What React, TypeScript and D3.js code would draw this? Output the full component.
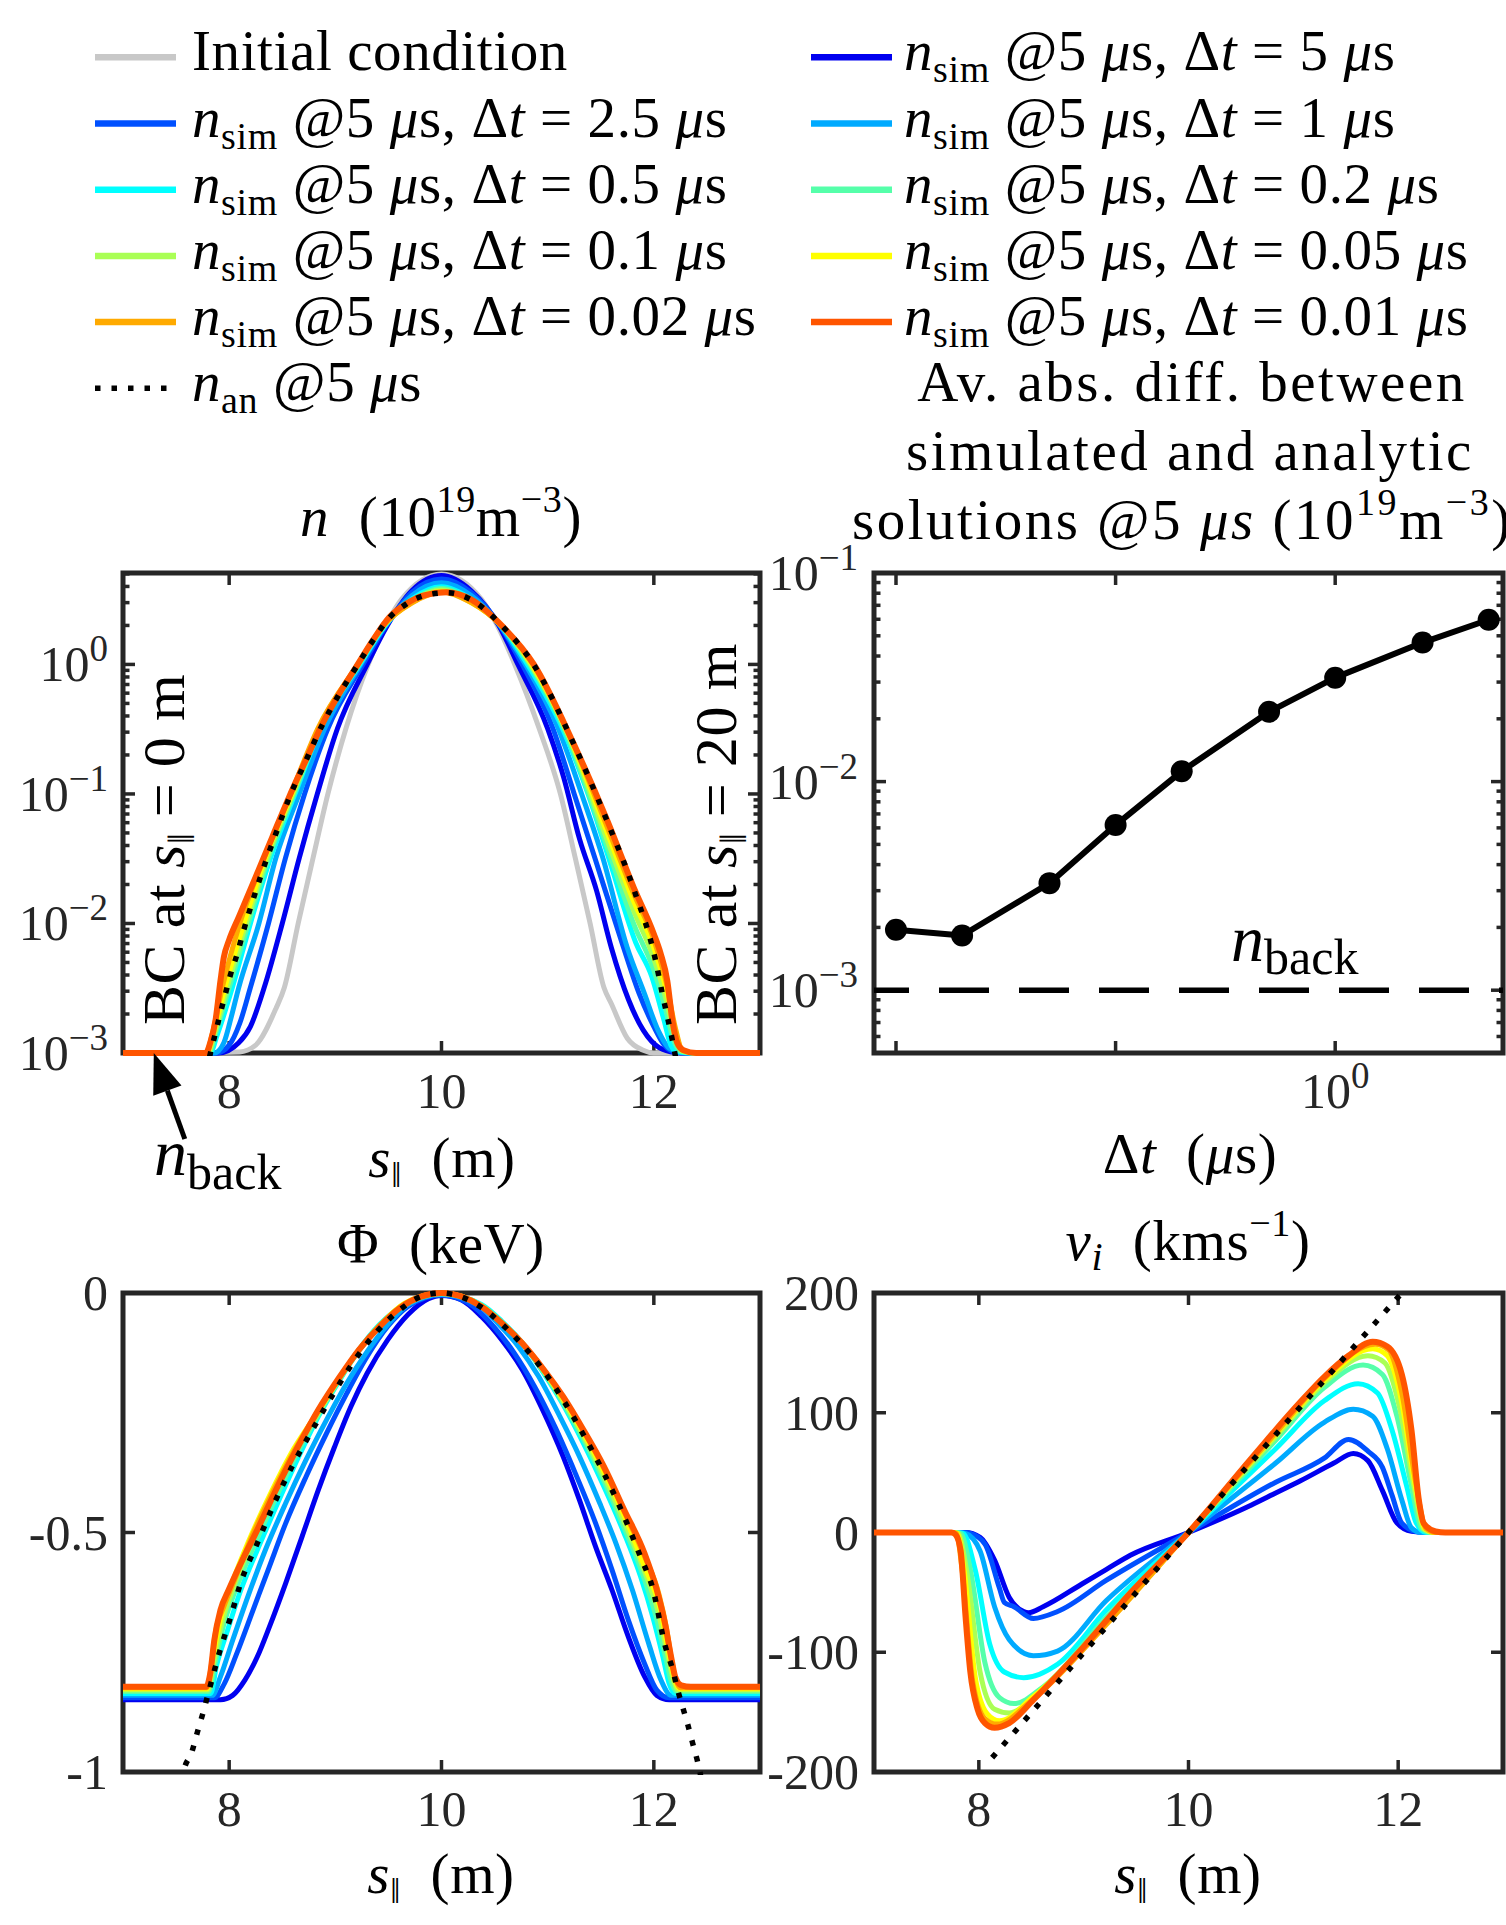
import React, { useEffect } from 'react';
import * as d3 from 'd3';

type Pt = [number, number];

// ---------------- series metadata ----------------
const dtLabels = ['5', '2.5', '1', '0.5', '0.2', '0.1', '0.05', '0.02', '0.01'];
const simColors = ['#0000f0', '#0050ff', '#00aaff', '#00ffff', '#55ffaa', '#aaff55', '#ffff00', '#ffaa00', '#ff5500'];
const initColor = '#c8c8c8';

// ---------------- top-right: average absolute difference ----------------
const errDt = [0.01, 0.02, 0.05, 0.1, 0.2, 0.5, 1, 2.5, 5];
const errVal = [1.95e-3, 1.83e-3, 3.26e-3, 6.19e-3, 1.12e-2, 2.16e-2, 3.15e-2, 4.64e-2, 5.97e-2];
const nBack = 1e-3;

// ---------------- top-left: density n (1e19 m^-3) vs s ----------------
const nInit: Pt[] = [[7, 1e-3], [8.1, 1.02e-3], [8.25, 1.15e-3], [8.44, 2.2e-3], [8.52, 3.2e-3], [8.65, 1e-2], [8.79, 3.2e-2], [8.93, 0.1], [9.1, 0.32], [9.31, 1.0], [9.475, 2.0], [9.625, 3.2], [10, 5.0], [10.375, 3.2], [10.525, 2.0], [10.69, 1.0], [10.92, 0.32], [11.12, 0.1], [11.26, 3.2e-2], [11.4, 1e-2], [11.53, 3.2e-3], [11.6, 2.4e-3], [11.75, 1.3e-3], [11.9, 1.05e-3], [12.0, 1e-3], [13, 1e-3]];
const nDt5: Pt[] = [[7, 1e-3], [7.9, 1e-3], [8.09, 1.2e-3], [8.2, 1.6e-3], [8.33, 3.2e-3], [8.5, 1e-2], [8.66, 3.2e-2], [8.83, 0.1], [9.02, 0.32], [9.3, 1.0], [9.49, 2.0], [9.72, 3.7], [10, 4.85], [10.28, 3.7], [10.54, 2.0], [10.72, 1.0], [11.0, 0.32], [11.15, 0.135], [11.3, 4.5e-2], [11.46, 1.8e-2], [11.6, 6.5e-3], [11.76, 2.6e-3], [11.9, 1.5e-3], [12.05, 1.1e-3], [12.2, 1.01e-3], [12.3, 1e-3], [13, 1e-3]];
const nDt2p5: Pt[] = [[7, 1e-3], [7.88, 1e-3], [8.0, 1.15e-3], [8.1, 1.7e-3], [8.2, 3.2e-3], [8.37, 1e-2], [8.53, 3.2e-2], [8.71, 0.1], [8.93, 0.32], [9.26, 1.0], [9.48, 2.0], [9.72, 3.6], [10, 4.57], [10.28, 3.6], [10.55, 2.0], [10.76, 1.0], [11.05, 0.32], [11.25, 0.1], [11.45, 3.1e-2], [11.7, 7.1e-3], [11.86, 2.9e-3], [12.0, 1.6e-3], [12.1, 1.15e-3], [12.19, 1.02e-3], [12.3, 1e-3], [13, 1e-3]];
const nDt1: Pt[] = [[7, 1e-3], [7.86, 1e-3], [7.95, 1.2e-3], [8.02, 1.9e-3], [8.09, 3.2e-3], [8.28, 1e-2], [8.44, 3.2e-2], [8.66, 0.1], [8.9, 0.32], [9.24, 1.0], [9.47, 2.0], [9.72, 3.4], [10, 4.27], [10.28, 3.4], [10.55, 2.0], [10.79, 1.0], [11.1, 0.32], [11.32, 0.1], [11.52, 3.2e-2], [11.75, 6.5e-3], [11.91, 2.9e-3], [12.04, 1.5e-3], [12.15, 1.08e-3], [12.3, 1e-3], [13, 1e-3]];
const nDt0p5: Pt[] = [[7, 1e-3], [7.82, 1e-3], [7.89, 1.4e-3], [8.03, 3.2e-3], [8.2, 1e-2], [8.39, 3.2e-2], [8.62, 0.1], [8.86, 0.32], [9.23, 1.0], [9.47, 2.0], [9.72, 3.2], [10, 3.98], [10.28, 3.2], [10.56, 2.0], [10.81, 1.0], [11.14, 0.32], [11.38, 0.1], [11.6, 2.75e-2], [11.83, 7.1e-3], [11.98, 3.9e-3], [12.095, 1.8e-3], [12.16, 1.15e-3], [12.22, 1.02e-3], [12.35, 1e-3], [13, 1e-3]];
const nDt0p2: Pt[] = [[7, 1e-3], [7.81, 1e-3], [7.87, 1.4e-3], [8.0, 3.2e-3], [8.18, 1e-2], [8.37, 3.2e-2], [8.61, 0.1], [8.855, 0.32], [9.22, 1.0], [9.46, 2.0], [9.72, 3.1], [10, 3.85], [10.28, 3.1], [10.56, 2.0], [10.83, 1.0], [11.17, 0.3], [11.58, 3.5e-2], [11.82, 9.5e-3], [11.99, 4.6e-3], [12.11, 2.2e-3], [12.18, 1.3e-3], [12.25, 1.03e-3], [12.38, 1e-3], [13, 1e-3]];
const nDt0p1: Pt[] = [[7, 1e-3], [7.8, 1e-3], [7.86, 1.4e-3], [7.98, 3.2e-3], [8.16, 1e-2], [8.355, 3.2e-2], [8.6, 0.1], [8.85, 0.32], [9.215, 1.0], [9.46, 2.0], [9.72, 3.05], [10, 3.76], [10.28, 3.05], [10.56, 2.0], [10.84, 1.0], [11.19, 0.29], [11.57, 4.2e-2], [11.82, 1.2e-2], [11.995, 5.5e-3], [12.12, 2.5e-3], [12.19, 1.4e-3], [12.26, 1.04e-3], [12.38, 1e-3], [13, 1e-3]];
const nDt0p05: Pt[] = [[7, 1e-3], [7.79, 1e-3], [7.85, 1.4e-3], [7.96, 3.2e-3], [8.14, 1e-2], [8.34, 3.2e-2], [8.59, 0.1], [8.84, 0.32], [9.213, 1.0], [9.455, 2.0], [9.72, 3.0], [10, 3.67], [10.28, 3.0], [10.564, 2.0], [10.85, 1.0], [11.21, 0.27], [11.565, 4.9e-2], [11.815, 1.45e-2], [12.0, 6.5e-3], [12.12, 3.0e-3], [12.2, 1.5e-3], [12.27, 1.05e-3], [12.4, 1e-3], [13, 1e-3]];
const nDt0p02: Pt[] = [[7, 1e-3], [7.785, 1e-3], [7.84, 1.4e-3], [7.935, 3.2e-3], [8.1, 1e-2], [8.33, 3.2e-2], [8.58, 0.1], [8.835, 0.32], [9.211, 1.0], [9.454, 2.0], [9.72, 2.98], [10, 3.63], [10.28, 3.0], [10.565, 2.0], [10.86, 1.0], [11.23, 0.255], [11.559, 5.6e-2], [11.81, 1.7e-2], [12.0, 7.5e-3], [12.12, 3.4e-3], [12.2, 1.6e-3], [12.27, 1.05e-3], [12.4, 1e-3], [13, 1e-3]];
const nDt0p01: Pt[] = [[7, 1e-3], [7.78, 1e-3], [7.824, 1.22e-3], [7.872, 1.8e-3], [7.919, 3.66e-3], [7.95, 5.5e-3], [7.998, 7.4e-3], [8.092, 1.13e-2], [8.25, 2.29e-2], [8.407, 4.67e-2], [8.565, 9.5e-2], [8.722, 0.182], [8.88, 0.349], [9.037, 0.594], [9.195, 0.953], [9.352, 1.53], [9.51, 2.32], [9.667, 2.94], [9.825, 3.4], [10.05, 3.6], [10.282, 3.16], [10.566, 2.0], [10.87, 1.0], [11.244, 0.245], [11.559, 6.3e-2], [11.81, 1.9e-2], [12.0, 8.3e-3], [12.063, 5.9e-3], [12.127, 3.6e-3], [12.174, 1.8e-3], [12.22, 1.2e-3], [12.28, 1.05e-3], [12.4, 1e-3], [13, 1e-3]];
const nAn: Pt[] = [[7.78, 7e-4], [7.824, 1e-3], [7.872, 1.44e-3], [7.919, 2.06e-3], [7.966, 2.89e-3], [8.014, 4.07e-3], [8.077, 5.87e-3], [8.124, 8.15e-3], [8.234, 1.61e-2], [8.351, 3.12e-2], [8.45, 5.2e-2], [8.565, 9.3e-2], [8.722, 0.18], [8.88, 0.345], [9.037, 0.59], [9.195, 0.95], [9.352, 1.52], [9.51, 2.3], [9.667, 2.92], [9.825, 3.38], [10.05, 3.58], [10.282, 3.15], [10.566, 2.0], [10.87, 0.99], [11.244, 0.245], [11.559, 6.2e-2], [11.81, 1.85e-2], [12.016, 5.2e-3], [12.079, 2.9e-3], [12.174, 1.26e-3], [12.22, 8e-4]];

// ---------------- bottom-left: potential Phi (keV) vs s ----------------
const phiDt5: Pt[] = [[7, -0.849], [7.918, -0.849], [8.033, -0.84], [8.148, -0.808], [8.264, -0.76], [8.379, -0.697], [8.532, -0.606], [8.686, -0.509], [8.84, -0.411], [8.993, -0.321], [9.147, -0.237], [9.301, -0.167], [9.493, -0.098], [9.685, -0.045], [9.877, -0.012], [10, -0.005], [10.184, -0.014], [10.376, -0.049], [10.568, -0.098], [10.761, -0.16], [10.953, -0.244], [11.145, -0.341], [11.299, -0.432], [11.452, -0.53], [11.606, -0.62], [11.76, -0.718], [11.913, -0.801], [12.028, -0.84], [12.144, -0.849], [13, -0.849]];
const phiDt2p5: Pt[] = [[7, -0.845], [7.86, -0.845], [7.956, -0.815], [8.071, -0.753], [8.225, -0.662], [8.379, -0.571], [8.532, -0.481], [8.725, -0.383], [8.917, -0.293], [9.109, -0.209], [9.301, -0.132], [9.493, -0.07], [9.685, -0.028], [10, -0.004], [10.3, -0.028], [10.492, -0.07], [10.684, -0.125], [10.876, -0.195], [11.068, -0.279], [11.26, -0.376], [11.452, -0.481], [11.606, -0.578], [11.76, -0.683], [11.913, -0.774], [12.028, -0.829], [12.144, -0.845], [13, -0.845]];
const phiDt1: Pt[] = [[7, -0.84], [7.841, -0.84], [7.918, -0.801], [8.033, -0.725], [8.187, -0.627], [8.34, -0.537], [8.532, -0.439], [8.725, -0.348], [8.917, -0.265], [9.109, -0.188], [9.301, -0.122], [9.493, -0.066], [9.685, -0.024], [10, -0.003], [10.338, -0.024], [10.53, -0.063], [10.722, -0.111], [10.914, -0.174], [11.106, -0.254], [11.299, -0.341], [11.491, -0.439], [11.644, -0.523], [11.798, -0.62], [11.952, -0.732], [12.067, -0.808], [12.163, -0.84], [13, -0.84]];
const phiDt0p5: Pt[] = [[7, -0.836], [7.826, -0.836], [7.879, -0.78], [7.975, -0.711], [8.11, -0.62], [8.264, -0.537], [8.456, -0.439], [8.648, -0.345], [8.84, -0.258], [9.032, -0.185], [9.224, -0.118], [9.416, -0.066], [9.685, -0.021], [10, -0.002], [10.376, -0.024], [10.568, -0.059], [10.761, -0.104], [10.953, -0.164], [11.145, -0.233], [11.337, -0.314], [11.529, -0.404], [11.721, -0.502], [11.875, -0.592], [11.99, -0.676], [12.086, -0.76], [12.144, -0.815], [12.201, -0.836], [13, -0.836]];
const phiDt0p2: Pt[] = [[7, -0.832], [7.81, -0.832], [7.86, -0.78], [7.94, -0.7], [8.06, -0.62], [8.22, -0.535], [8.42, -0.437], [8.62, -0.343], [8.84, -0.254], [9.032, -0.183], [9.224, -0.12], [9.416, -0.068], [9.65, -0.024], [10, -0.001], [10.37, -0.025], [10.568, -0.061], [10.761, -0.105], [10.953, -0.162], [11.145, -0.229], [11.337, -0.305], [11.529, -0.392], [11.721, -0.49], [11.9, -0.59], [12.02, -0.675], [12.11, -0.76], [12.17, -0.815], [12.22, -0.832], [13, -0.832]];
const phiDt0p1: Pt[] = [[7, -0.829], [7.8, -0.829], [7.85, -0.775], [7.93, -0.69], [8.04, -0.615], [8.2, -0.528], [8.4, -0.43], [8.6, -0.34], [8.84, -0.25], [9.032, -0.181], [9.224, -0.119], [9.416, -0.068], [9.65, -0.023], [10, 0], [10.37, -0.026], [10.568, -0.062], [10.761, -0.105], [10.953, -0.16], [11.145, -0.225], [11.337, -0.298], [11.529, -0.382], [11.721, -0.478], [11.91, -0.58], [12.04, -0.665], [12.13, -0.755], [12.19, -0.812], [12.23, -0.829], [13, -0.829]];
const phiDt0p05: Pt[] = [[7, -0.826], [7.795, -0.826], [7.84, -0.77], [7.92, -0.68], [8.02, -0.61], [8.18, -0.52], [8.38, -0.423], [8.58, -0.336], [8.84, -0.247], [9.032, -0.18], [9.224, -0.118], [9.416, -0.069], [9.65, -0.022], [10, 0], [10.376, -0.027], [10.568, -0.063], [10.761, -0.105], [10.953, -0.158], [11.145, -0.221], [11.337, -0.293], [11.529, -0.373], [11.721, -0.465], [11.91, -0.57], [12.06, -0.66], [12.14, -0.75], [12.2, -0.81], [12.24, -0.826], [13, -0.826]];
const phiDt0p02: Pt[] = [[7, -0.824], [7.79, -0.824], [7.83, -0.78], [7.87, -0.71], [7.95, -0.655], [8.05, -0.6], [8.2, -0.515], [8.4, -0.42], [8.6, -0.334], [8.84, -0.245], [9.032, -0.179], [9.224, -0.118], [9.416, -0.07], [9.608, -0.031], [10, 0], [10.376, -0.028], [10.568, -0.063], [10.761, -0.105], [10.953, -0.157], [11.145, -0.218], [11.337, -0.288], [11.529, -0.366], [11.721, -0.457], [11.913, -0.55], [12.05, -0.63], [12.12, -0.7], [12.17, -0.77], [12.21, -0.81], [12.25, -0.824], [13, -0.824]];
const phiDt0p01: Pt[] = [[7, -0.822], [7.783, -0.822], [7.822, -0.794], [7.86, -0.725], [7.918, -0.662], [7.995, -0.62], [8.11, -0.564], [8.264, -0.495], [8.456, -0.404], [8.648, -0.321], [8.84, -0.244], [9.032, -0.178], [9.224, -0.118], [9.416, -0.07], [9.608, -0.031], [9.8, -0.008], [10, 0], [10.184, -0.007], [10.376, -0.028], [10.568, -0.063], [10.761, -0.105], [10.953, -0.157], [11.145, -0.216], [11.337, -0.286], [11.529, -0.362], [11.721, -0.453], [11.913, -0.544], [12.028, -0.62], [12.105, -0.69], [12.163, -0.76], [12.201, -0.801], [12.259, -0.819], [12.35, -0.822], [13, -0.822]];
const phiAn: Pt[] = [[7.55, -1.02], [7.572, -0.997], [7.649, -0.958], [7.699, -0.918], [7.753, -0.877], [7.803, -0.836], [7.91, -0.749], [8.01, -0.679], [8.118, -0.599], [8.264, -0.523], [8.417, -0.443], [8.609, -0.355], [8.801, -0.279], [8.993, -0.206], [9.186, -0.139], [9.378, -0.084], [9.608, -0.035], [9.8, -0.008], [10, 0], [10.184, -0.008], [10.376, -0.03], [10.568, -0.065], [10.761, -0.108], [10.953, -0.16], [11.145, -0.223], [11.337, -0.296], [11.529, -0.376], [11.721, -0.467], [11.875, -0.551], [11.99, -0.617], [12.105, -0.735], [12.182, -0.79], [12.221, -0.826], [12.267, -0.861], [12.317, -0.899], [12.367, -0.941], [12.413, -0.979], [12.432, -0.997], [12.45, -1.02]];

// ---------------- bottom-right: ion velocity v_i (km/s) vs s ----------------
const vDt5: Pt[] = [[7, 0], [7.873, 0], [8.012, -4], [8.15, -23], [8.289, -54], [8.428, -66], [8.474, -67], [8.613, -62], [8.983, -43], [9.214, -31], [9.445, -19], [10, 0], [10.601, 23], [10.832, 33], [11.064, 43], [11.387, 58], [11.572, 66], [11.711, 60], [11.85, 35], [11.988, 8], [12.127, 1], [12.3, 0], [13, 0]];
const vDt2p5: Pt[] = [[7, 0], [7.85, 0], [7.919, -0.8], [8.058, -9.7], [8.197, -46.6], [8.243, -58.3], [8.335, -62], [8.52, -71.8], [8.751, -66], [9.214, -40], [10, 0], [10.832, 42], [11.295, 62.1], [11.526, 77.7], [11.711, 68], [11.85, 54.4], [11.942, 31], [12.035, 7.8], [12.173, 0.8], [12.3, 0], [13, 0]];
const vDt1: Pt[] = [[7, 0], [7.8, 0], [7.873, -0.8], [8.012, -15.5], [8.15, -62], [8.289, -89.3], [8.52, -102.9], [8.751, -99], [9.214, -57], [10, 0], [10.832, 58], [11.295, 92], [11.572, 102.9], [11.757, 97.1], [11.896, 69.9], [12.035, 27.2], [12.127, 3.9], [12.22, 0], [13, 0]];
const vDt0p5: Pt[] = [[7, 0], [7.78, 0], [7.85, -0.8], [7.965, -31], [8.104, -93.2], [8.243, -116.5], [8.428, -121.2], [8.751, -110], [9.214, -65], [10, 0], [10.832, 70], [11.295, 110], [11.618, 124.3], [11.803, 116.5], [11.942, 85.4], [12.081, 38.8], [12.173, 7.8], [12.266, 0], [13, 0]];
const vDt0p2: Pt[] = [[7, 0], [7.76, 0], [7.827, -0.8], [7.919, -31], [8.058, -108.7], [8.197, -137.9], [8.335, -142.9], [8.613, -129], [9.214, -71], [10, 0], [10.832, 77], [11.295, 121], [11.665, 139.8], [11.85, 132], [11.988, 97.1], [12.127, 38.8], [12.22, 3.9], [12.312, 0], [13, 0]];
const vDt0p1: Pt[] = [[7, 0], [7.75, 0], [7.804, -0.8], [7.882, -31], [8.012, -116.5], [8.15, -147.6], [8.289, -150.7], [8.566, -134], [9.214, -74], [10, 0], [10.832, 80], [11.295, 125], [11.711, 147.6], [11.873, 141.7], [12.012, 104.9], [12.15, 38.8], [12.243, 3.1], [12.335, 0], [13, 0]];
const vDt0p05: Pt[] = [[7, 0], [7.74, 0], [7.794, -0.8], [7.859, -31], [7.965, -120.4], [8.081, -151.5], [8.197, -157.3], [8.52, -137], [9.214, -76], [10, 0], [10.832, 82], [11.295, 127], [11.757, 153.4], [11.896, 147.6], [12.025, 112.6], [12.164, 38.8], [12.257, 3.1], [12.349, 0], [13, 0]];
const vDt0p02: Pt[] = [[7, 0], [7.73, 0], [7.785, -0.8], [7.84, -31], [7.942, -124.3], [8.058, -155.3], [8.173, -160], [8.52, -139], [9.214, -77], [10, 0], [10.832, 83], [11.295, 128.5], [11.78, 157.3], [11.91, 152.2], [12.035, 116.5], [12.173, 38.8], [12.266, 3.1], [12.358, 0], [13, 0]];
const vDt0p01: Pt[] = [[7, 0], [7.74, 0], [7.78, -2], [7.827, -15.5], [7.873, -70], [7.919, -116.5], [7.988, -147.6], [8.058, -159.2], [8.15, -163.1], [8.289, -159.2], [8.52, -139.8], [8.983, -97.1], [9.445, -50.5], [10, 0], [10.601, 62.1], [11.064, 108.7], [11.295, 130], [11.526, 147.6], [11.757, 159.2], [11.896, 155.3], [12.035, 132], [12.127, 85.4], [12.197, 27.2], [12.243, 7.8], [12.358, 0.8], [12.45, 0], [13, 0]];
const vAn: Pt[] = [[8.127, -188], [10, 0], [12.035, 200]];

const nSims = [nDt5, nDt2p5, nDt1, nDt0p5, nDt0p2, nDt0p1, nDt0p05, nDt0p02, nDt0p01];
const phiSims = [phiDt5, phiDt2p5, phiDt1, phiDt0p5, phiDt0p2, phiDt0p1, phiDt0p05, phiDt0p02, phiDt0p01];
const vSims = [vDt5, vDt2p5, vDt1, vDt0p5, vDt0p2, vDt0p1, vDt0p05, vDt0p02, vDt0p01];

// ---------------- layout ----------------
const W = 1506;
const H = 1925;
const FONT = "'Liberation Serif', 'Times New Roman', serif";
const AXC = '#262626';
const FS = 57;
const TFS = 50;
const SUPFS = 37;
const LSP = 0.6;
const PL = { x0: 123, x1: 760 };
const PR = { x0: 874, x1: 1503 };
const RT = { y0: 573, y1: 1053 };
const RB = { y0: 1293, y1: 1772 };

const xN = d3.scaleLinear().domain([7, 13]).range([PL.x0, PL.x1]);
const yN = d3.scaleLog().domain([1e-3, 5.08]).range([RT.y1, RT.y0]);
const xE = d3.scaleLog().domain([0.00794, 5.81]).range([PR.x0, PR.x1]);
const yE = d3.scaleLog().domain([5e-4, 0.1]).range([RT.y1, RT.y0]);
const xP = d3.scaleLinear().domain([7, 13]).range([PL.x0, PL.x1]);
const yP = d3.scaleLinear().domain([-1, 0]).range([RB.y1, RB.y0]);
const xV = d3.scaleLinear().domain([7, 13]).range([PR.x0, PR.x1]);
const yV = d3.scaleLinear().domain([-200, 200]).range([RB.y1, RB.y0]);

type Tick = { p: number; major: boolean };

function logTicks(scale: d3.ScaleLogarithmic<number, number>): Tick[] {
  const [lo, hi] = scale.domain();
  const out: Tick[] = [];
  for (let e = Math.floor(Math.log10(lo)); e <= Math.ceil(Math.log10(hi)); e++) {
    for (let k = 1; k <= 9; k++) {
      const v = k * Math.pow(10, e);
      if (v >= lo * 0.999 && v <= hi * 1.001) out.push({ p: scale(v), major: k === 1 });
    }
  }
  return out;
}

function Frame({ x0, x1, y0, y1, xt, yt }: { x0: number; x1: number; y0: number; y1: number; xt: Tick[]; yt: Tick[] }) {
  const M = 12;
  const m = 6.5;
  return (
    <g stroke={AXC} fill="none">
      <rect x={x0} y={y0} width={x1 - x0} height={y1 - y0} strokeWidth={5} />
      {xt.map((t, i) => (
        <g key={'x' + i} strokeWidth={3.5}>
          <line x1={t.p} x2={t.p} y1={y1} y2={y1 - (t.major ? M : m)} />
          <line x1={t.p} x2={t.p} y1={y0} y2={y0 + (t.major ? M : m)} />
        </g>
      ))}
      {yt.map((t, i) => (
        <g key={'y' + i} strokeWidth={3.5}>
          <line x1={x0} x2={x0 + (t.major ? M : m)} y1={t.p} y2={t.p} />
          <line x1={x1} x2={x1 - (t.major ? M : m)} y1={t.p} y2={t.p} />
        </g>
      ))}
    </g>
  );
}

function Pow10({ x, y, e, anchor }: { x: number; y: number; e: number; anchor: 'end' | 'middle' }) {
  return (
    <text x={x} y={y} textAnchor={anchor} fontSize={TFS} fill={AXC}>
      <tspan>10</tspan>
      <tspan fontSize={SUPFS} dy={-20}>{e < 0 ? '\u2212' + -e : String(e)}</tspan>
    </text>
  );
}

function SimText({ dt }: { dt: string }) {
  return (
    <>
      <tspan fontStyle="italic">n</tspan>
      <tspan fontSize={38} dy={12}>sim</tspan>
      <tspan dy={-12}>{' @5 '}</tspan>
      <tspan fontStyle="italic">μ</tspan>
      <tspan>{'s, Δ'}</tspan>
      <tspan fontStyle="italic">t</tspan>
      <tspan>{` = ${dt} `}</tspan>
      <tspan fontStyle="italic">μ</tspan>
      <tspan>s</tspan>
    </>
  );
}

const DOT = { stroke: '#000', strokeWidth: 5.5, strokeDasharray: '5.5 11', fill: 'none' };

export default function App() {
  useEffect(() => {
    document.body.style.margin = '0';
  }, []);

  const lineN = d3.line<Pt>().x((d) => xN(d[0])).y((d) => yN(d[1])).curve(d3.curveMonotoneX);
  const lineP = d3.line<Pt>().x((d) => xP(d[0])).y((d) => yP(d[1])).curve(d3.curveMonotoneX);
  const lineV = d3.line<Pt>().x((d) => xV(d[0])).y((d) => yV(d[1])).curve(d3.curveMonotoneX);
  const lineVan = d3.line<Pt>().x((d) => xV(d[0])).y((d) => yV(d[1]));
  const errPts: Pt[] = errDt.map((d, i) => [d, errVal[i]]);
  const lineE = d3.line<Pt>().x((d) => xE(d[0])).y((d) => yE(d[1]));

  const sTicks = [8, 10, 12];
  const xtS = (sc: d3.ScaleLinear<number, number>): Tick[] => sTicks.map((v) => ({ p: sc(v), major: true }));

  const legendItems: { kind: 'init' | 'sim' | 'an'; i?: number }[] = [
    { kind: 'init' },
    ...dtLabels.map((_, i) => ({ kind: 'sim' as const, i })),
    { kind: 'an' },
  ];
  const legRow0 = 57.3;
  const legDy = 66.2;
  const legCols = [
    { lx0: 95, lx1: 176, tx: 192 },
    { lx0: 811, lx1: 892, tx: 904 },
  ];

  const clip = (id: string, x0: number, x1: number, y0: number, y1: number) => (
    <clipPath id={id}>
      <rect x={x0 - 3} y={y0 - 3} width={x1 - x0 + 6} height={y1 - y0 + 6} />
    </clipPath>
  );

  // arrow annotation pointing at the background density
  const tip: Pt = [xN(7.29), yN(nBack)];
  const tail: Pt = [tip[0] + 31, tip[1] + 86];
  const ang = Math.atan2(tip[1] - tail[1], tip[0] - tail[0]);
  const hl = 40;
  const hw = 15;
  const bx = tip[0] - hl * Math.cos(ang);
  const by = tip[1] - hl * Math.sin(ang);
  const head = [
    [tip[0], tip[1]],
    [bx + hw * Math.sin(ang), by - hw * Math.cos(ang)],
    [bx - hw * Math.sin(ang), by + hw * Math.cos(ang)],
  ]
    .map((p) => p.join(','))
    .join(' ');

  return (
    <svg
      width={W}
      height={H}
      viewBox={`0 0 ${W} ${H}`}
      style={{ position: 'absolute', left: 0, top: 0, background: '#fff' }}
      fontFamily={FONT}
    >
      <defs>
        {clip('cN', PL.x0, PL.x1, RT.y0, RT.y1)}
        {clip('cE', PR.x0, PR.x1, RT.y0, RT.y1)}
        {clip('cP', PL.x0, PL.x1, RB.y0, RB.y1)}
        {clip('cV', PR.x0, PR.x1, RB.y0, RB.y1)}
      </defs>
      <rect x={0} y={0} width={W} height={H} fill="#fff" />

      {/* ---------------- legend ---------------- */}
      {legendItems.map((it, idx) => {
        const row = Math.floor(idx / 2);
        const col = legCols[idx % 2];
        const cy = legRow0 + row * legDy;
        const color = it.kind === 'init' ? initColor : it.kind === 'sim' ? simColors[it.i!] : '#000';
        return (
          <g key={idx}>
            {it.kind === 'an' ? (
              <line x1={col.lx0} x2={col.lx1} y1={cy} y2={cy} {...DOT} />
            ) : (
              <line x1={col.lx0} x2={col.lx1} y1={cy} y2={cy} stroke={color} strokeWidth={6.5} />
            )}
            <text x={col.tx} y={cy + 13} fontSize={FS} letterSpacing={LSP} style={{ whiteSpace: 'pre' }} fill="#000">
              {it.kind === 'init' && 'Initial condition'}
              {it.kind === 'sim' && <SimText dt={dtLabels[it.i!]} />}
              {it.kind === 'an' && (
                <>
                  <tspan fontStyle="italic">n</tspan>
                  <tspan fontSize={38} dy={12}>an</tspan>
                  <tspan dy={-12}>{' @5 '}</tspan>
                  <tspan fontStyle="italic">μ</tspan>
                  <tspan>s</tspan>
                </>
              )}
            </text>
          </g>
        );
      })}

      {/* ---------------- titles ---------------- */}
      <text x={441} y={536} textAnchor="middle" fontSize={FS} letterSpacing={LSP} style={{ whiteSpace: 'pre' }}>
        <tspan fontStyle="italic">n</tspan>
        <tspan>{'  (10'}</tspan>
        <tspan fontSize={38} dy={-24}>19</tspan>
        <tspan dy={24}>m</tspan>
        <tspan fontSize={38} dy={-24}>−3</tspan>
        <tspan dy={24}>)</tspan>
      </text>
      <g fontSize={FS} letterSpacing={2.5} textAnchor="middle" style={{ whiteSpace: 'pre' }}>
        <text x={1192} y={401}>Av. abs. diff. between</text>
        <text x={1190} y={470}>simulated and analytic</text>
        <text x={852} y={539} textAnchor="start">
          <tspan>{'solutions @5 '}</tspan>
          <tspan fontStyle="italic">μs</tspan>
          <tspan>{' (10'}</tspan>
          <tspan fontSize={38} dy={-24}>19</tspan>
          <tspan dy={24}>m</tspan>
          <tspan fontSize={38} dy={-24}>−3</tspan>
          <tspan dy={24}>)</tspan>
        </text>
      </g>
      <text x={441} y={1263} textAnchor="middle" fontSize={FS} letterSpacing={LSP} style={{ whiteSpace: 'pre' }}>
        {'Φ  (keV)'}
      </text>
      <text x={1188} y={1260} textAnchor="middle" fontSize={FS} letterSpacing={LSP} style={{ whiteSpace: 'pre' }}>
        <tspan fontStyle="italic">v</tspan>
        <tspan fontStyle="italic" fontSize={40} dy={10}>i</tspan>
        <tspan dy={-10}>{'  (kms'}</tspan>
        <tspan fontSize={38} dy={-24}>−1</tspan>
        <tspan dy={24}>)</tspan>
      </text>

      {/* ---------------- axis labels ---------------- */}
      {[
        { x: 442, y: 1177 },
        { x: 441, y: 1893 },
        { x: 1188, y: 1893 },
      ].map((p, i) => (
        <text key={i} x={p.x} y={p.y} textAnchor="middle" fontSize={FS} letterSpacing={LSP} style={{ whiteSpace: 'pre' }}>
          <tspan fontStyle="italic">s</tspan>
          <tspan fontSize={36} dy={10}>‖</tspan>
          <tspan dy={-10}>{'  (m)'}</tspan>
        </text>
      ))}
      <text x={1190} y={1173} textAnchor="middle" fontSize={FS} letterSpacing={LSP} style={{ whiteSpace: 'pre' }}>
        <tspan>Δ</tspan>
        <tspan fontStyle="italic">t</tspan>
        <tspan>{'  ('}</tspan>
        <tspan fontStyle="italic">μ</tspan>
        <tspan>s)</tspan>
      </text>

      {/* ---------------- top-left: n ---------------- */}
      <Frame x0={PL.x0} x1={PL.x1} y0={RT.y0} y1={RT.y1} xt={xtS(xN)} yt={logTicks(yN)} />
      <g clipPath="url(#cN)" fill="none" strokeLinejoin="round">
        <path d={lineN(nInit)!} stroke={initColor} strokeWidth={5} />
        {nSims.map((s, i) => (
          <path key={i} d={lineN(s)!} stroke={simColors[i]} strokeWidth={i === 8 ? 6 : 5} />
        ))}
        <path d={lineN(nAn)!} {...DOT} />
      </g>
      {sTicks.map((v) => (
        <text key={v} x={xN(v)} y={1108} textAnchor="middle" fontSize={TFS} fill={AXC}>
          {v}
        </text>
      ))}
      {[-3, -2, -1, 0].map((e) => (
        <Pow10 key={e} x={PL.x0 - 15} y={yN(Math.pow(10, e)) + 17} e={e} anchor="end" />
      ))}
      <text transform={`translate(184,1025) rotate(-90)`} fontSize={60} letterSpacing={LSP} style={{ whiteSpace: 'pre' }}>
        <tspan>{'BC at '}</tspan>
        <tspan fontStyle="italic">s</tspan>
        <tspan fontSize={38} dy={10}>‖</tspan>
        <tspan dy={-10}>{' = 0 m'}</tspan>
      </text>
      <text transform={`translate(736,1025) rotate(-90)`} fontSize={60} letterSpacing={LSP} style={{ whiteSpace: 'pre' }}>
        <tspan>{'BC at '}</tspan>
        <tspan fontStyle="italic">s</tspan>
        <tspan fontSize={38} dy={10}>‖</tspan>
        <tspan dy={-10}>{' = 20 m'}</tspan>
      </text>
      <line x1={tail[0]} y1={tail[1]} x2={bx} y2={by} stroke="#000" strokeWidth={5} />
      <polygon points={head} fill="#000" />
      <text x={154} y={1175} style={{ whiteSpace: 'pre' }}>
        <tspan fontStyle="italic" fontSize={66}>n</tspan>
        <tspan fontSize={50} dy={14}>back</tspan>
      </text>

      {/* ---------------- top-right: error vs dt ---------------- */}
      <Frame
        x0={PR.x0}
        x1={PR.x1}
        y0={RT.y0}
        y1={RT.y1}
        xt={[0.01, 0.1, 1].map((v) => ({ p: xE(v), major: true }))}
        yt={logTicks(yE)}
      />
      <g clipPath="url(#cE)">
        <line
          x1={PR.x0}
          x2={PR.x1}
          y1={yE(nBack)}
          y2={yE(nBack)}
          stroke="#000"
          strokeWidth={5.5}
          strokeDasharray="50 30"
          strokeDashoffset={15}
        />
        <path d={lineE(errPts)!} stroke="#000" strokeWidth={6} fill="none" strokeLinejoin="round" />
        {errPts.map((p, i) => (
          <circle key={i} cx={xE(p[0])} cy={yE(p[1])} r={11} fill="#000" />
        ))}
      </g>
      <Pow10 x={xE(1)} y={1108} e={0} anchor="middle" />
      {[-3, -2, -1].map((e) => (
        <Pow10 key={e} x={PR.x0 - 16} y={yE(Math.pow(10, e)) + 17} e={e} anchor="end" />
      ))}
      <text x={1231} y={961} style={{ whiteSpace: 'pre' }}>
        <tspan fontStyle="italic" fontSize={66}>n</tspan>
        <tspan fontSize={50} dy={13}>back</tspan>
      </text>

      {/* ---------------- bottom-left: Phi ---------------- */}
      <Frame
        x0={PL.x0}
        x1={PL.x1}
        y0={RB.y0}
        y1={RB.y1}
        xt={xtS(xP)}
        yt={[-1, -0.5, 0].map((v) => ({ p: yP(v), major: true }))}
      />
      <g clipPath="url(#cP)" fill="none" strokeLinejoin="round">
        {phiSims.map((s, i) => (
          <path key={i} d={lineP(s)!} stroke={simColors[i]} strokeWidth={i === 8 ? 6 : 5} />
        ))}
        <path d={lineP(phiAn)!} {...DOT} />
      </g>
      {sTicks.map((v) => (
        <text key={v} x={xP(v)} y={1826} textAnchor="middle" fontSize={TFS} fill={AXC}>
          {v}
        </text>
      ))}
      {[-1, -0.5, 0].map((v) => (
        <text key={v} x={PL.x0 - 15} y={yP(v) + 17} textAnchor="end" fontSize={TFS} fill={AXC}>
          {v === 0 ? '0' : String(v)}
        </text>
      ))}

      {/* ---------------- bottom-right: v_i ---------------- */}
      <Frame
        x0={PR.x0}
        x1={PR.x1}
        y0={RB.y0}
        y1={RB.y1}
        xt={xtS(xV)}
        yt={[-200, -100, 0, 100, 200].map((v) => ({ p: yV(v), major: true }))}
      />
      <g clipPath="url(#cV)" fill="none" strokeLinejoin="round">
        {vSims.map((s, i) => (
          <path key={i} d={lineV(s)!} stroke={simColors[i]} strokeWidth={i === 8 ? 6 : 5} />
        ))}
        <path d={lineVan(vAn)!} {...DOT} />
      </g>
      {sTicks.map((v) => (
        <text key={v} x={xV(v)} y={1826} textAnchor="middle" fontSize={TFS} fill={AXC}>
          {v}
        </text>
      ))}
      {[-200, -100, 0, 100, 200].map((v) => (
        <text key={v} x={PR.x0 - 15} y={yV(v) + 17} textAnchor="end" fontSize={TFS} fill={AXC}>
          {String(v)}
        </text>
      ))}
    </svg>
  );
}
